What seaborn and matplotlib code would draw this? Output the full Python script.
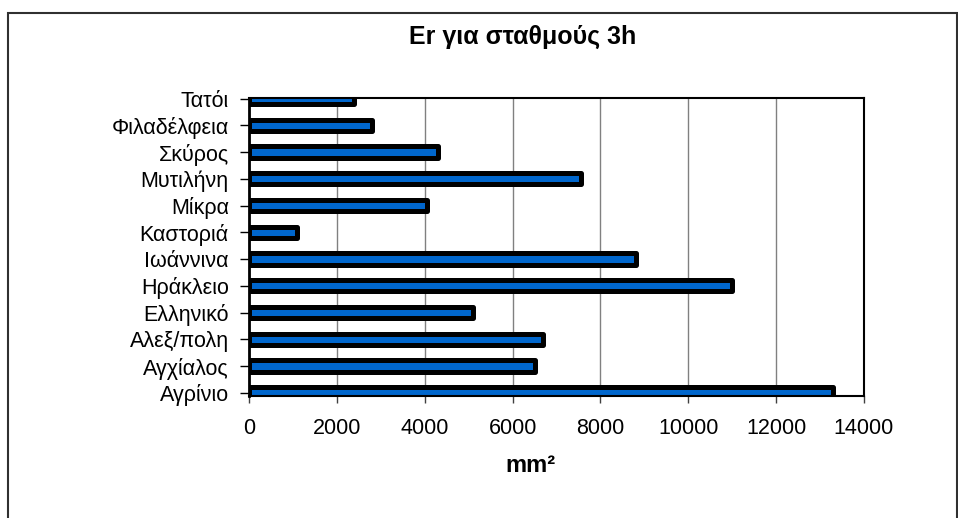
import numpy as np
import pandas as pd
import seaborn as sns
import matplotlib.pyplot as plt
from matplotlib.patches import Rectangle

# stations top to bottom, as in the chart
stations = ['Τατόι', 'Φιλαδέλφεια', 'Σκύρος', 'Μυτιλήνη', 'Μίκρα', 'Καστοριά',
            'Ιωάννινα', 'Ηράκλειο', 'Ελληνικό', 'Αλεξ/πολη', 'Αγχίαλος', 'Αγρίνιο']
# Er values (mm^2)
er_values = [2400, 2800, 4300, 7550, 4050, 1100,
             8800, 11000, 5100, 6700, 6500, 13300]
x_ticks = [0, 2000, 4000, 6000, 8000, 10000, 12000, 14000]

df = pd.DataFrame({'station': stations, 'er': er_values})

sns.set_style('white')
plt.rcParams['font.family'] = ['Liberation Sans', 'DejaVu Sans']
plt.rcParams['text.color'] = 'black'
plt.rcParams['xtick.labelcolor'] = 'black'
plt.rcParams['ytick.labelcolor'] = 'black'

W, H = 958, 518
fig = plt.figure(figsize=(W / 100, H / 100), dpi=100)
ax = fig.add_axes([249 / W, 1 - 396 / H, (864 - 249) / W, (396 - 98) / H])

sns.barplot(data=df, x='er', y='station', orient='h', order=stations,
            color='#0066CC', saturation=1, edgecolor='black', linewidth=3.6,
            width=0.42, ax=ax)
for p in ax.patches:
    p.set_joinstyle('round')

ax.set_xlim(0, 14000)
ax.set_ylim(11.12, -0.02)
ax.set_xticks(x_ticks)
ax.set_xticklabels([str(t) for t in x_ticks])

# vertical gridlines
ax.xaxis.grid(True, color='#808080', linewidth=1.0)
ax.yaxis.grid(False)
ax.set_axisbelow(True)

for side in ['top', 'right', 'bottom']:
    ax.spines[side].set_color('black')
    ax.spines[side].set_linewidth(1.5)
ax.spines['left'].set_color('black')
ax.spines['left'].set_linewidth(2.0)

ax.tick_params(axis='y', length=6.5, width=1.0, color='black', pad=8,
               labelsize=15.5, labelcolor='black', left=True)
ax.tick_params(axis='x', length=5, width=1.0, color='#404040', pad=11,
               labelsize=15.5, labelcolor='black', bottom=True)

ax.set_xlabel('')
ax.set_ylabel('')

fig.text(523 / W, 1 - 37 / H, 'Er για σταθμούς 3h', ha='center', va='center',
         fontsize=18, fontweight='bold', color='black')
fig.text(530 / W, 1 - 466 / H, 'mm²', ha='center', va='center',
         fontsize=17, fontweight='bold', color='black')

# outer chart frame
fig.add_artist(Rectangle((8 / W, -0.05), (957 - 8) / W, 1.05 - 13 / H,
                         transform=fig.transFigure, fill=False,
                         edgecolor='#303030', linewidth=1.5))

fig.savefig('out.png', dpi=100)
